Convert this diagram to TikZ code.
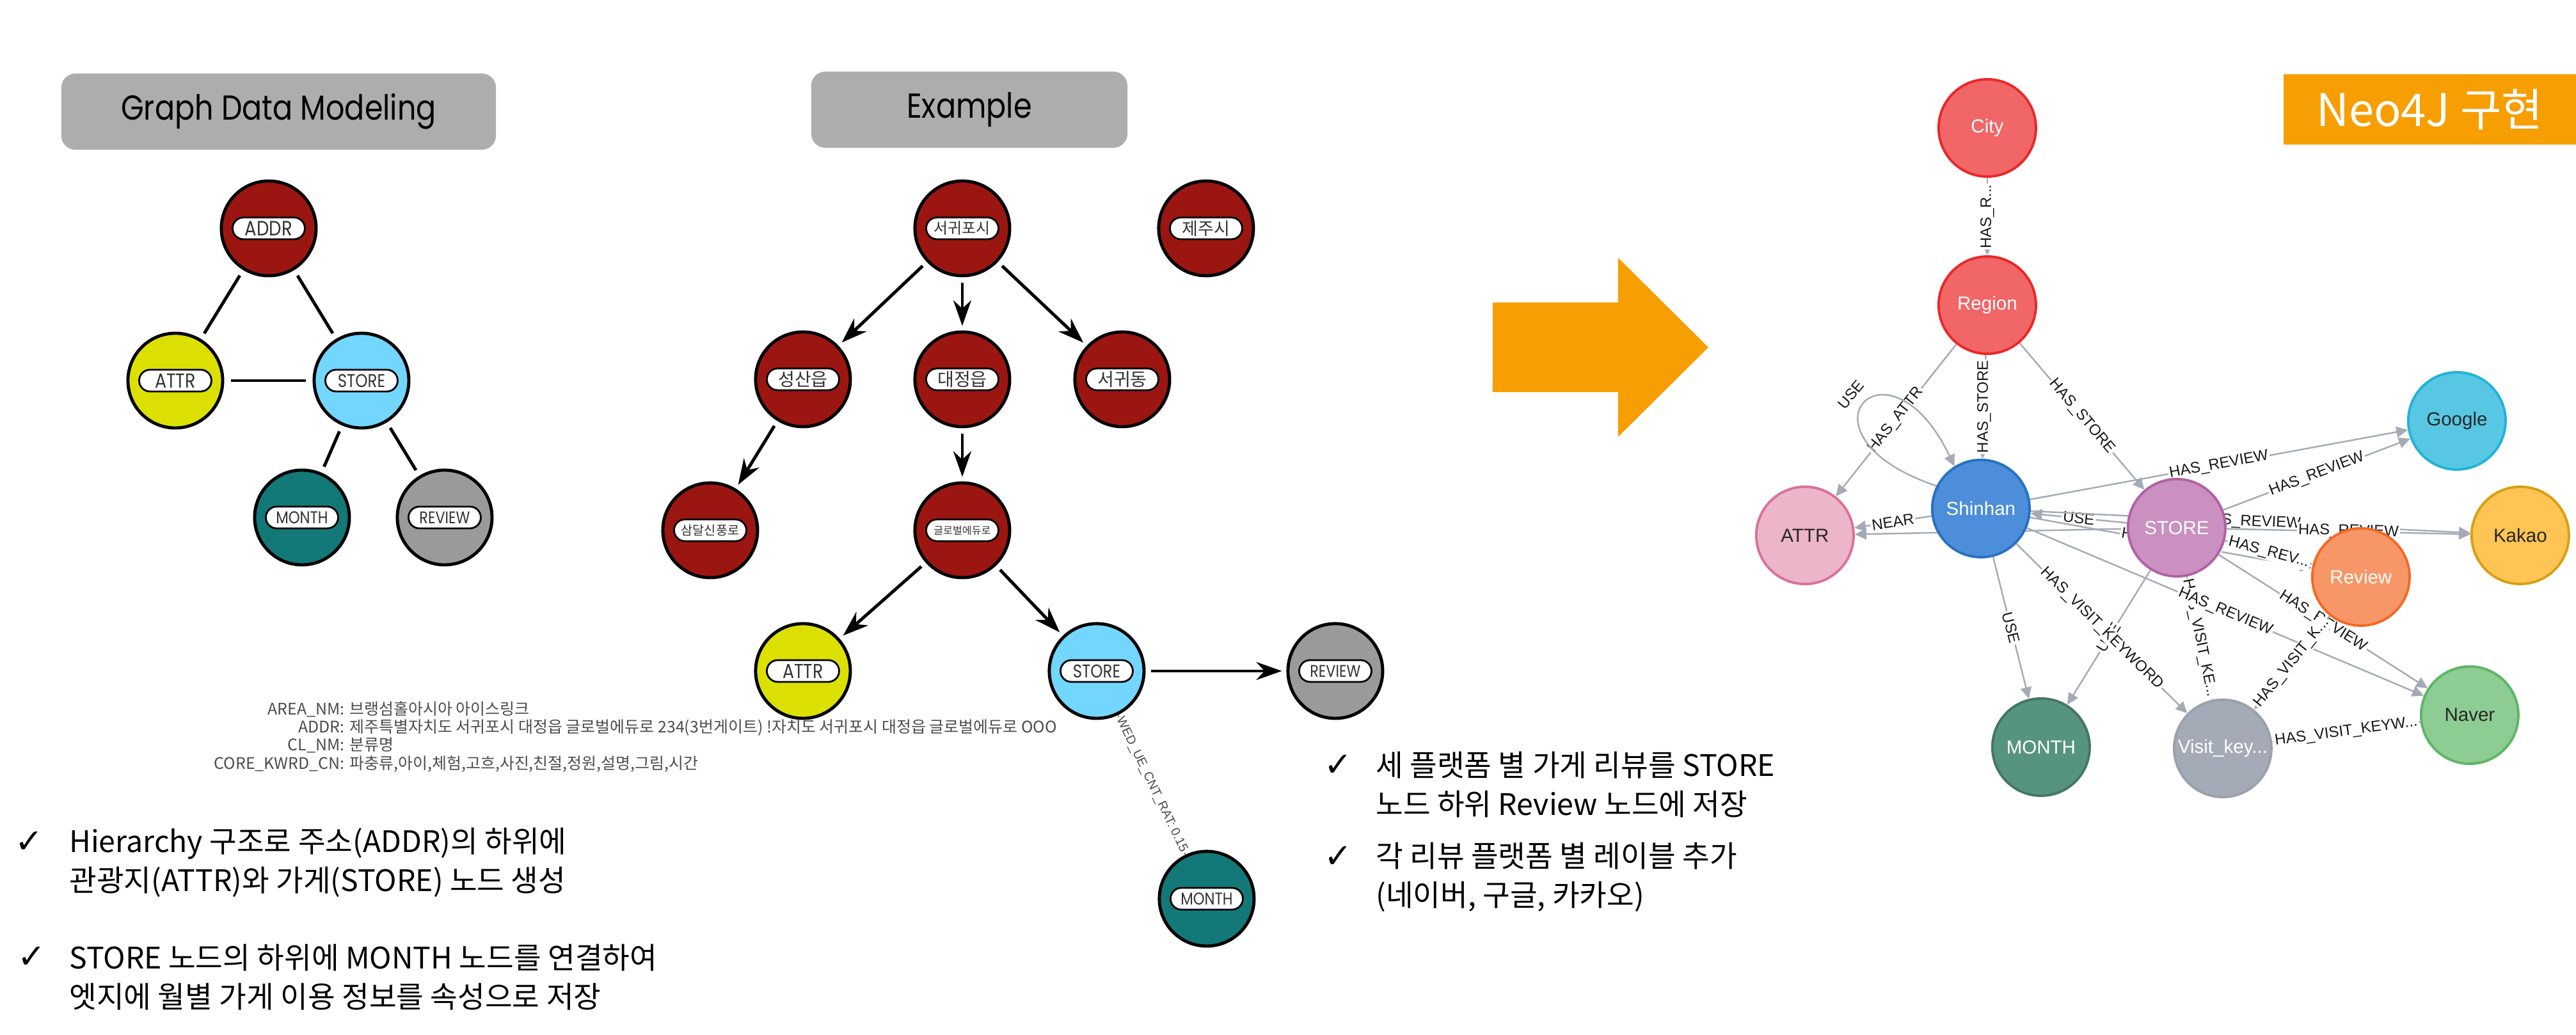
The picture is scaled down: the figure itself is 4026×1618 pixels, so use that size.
\documentclass[tikz,border=0pt]{standalone}
\usepackage{fontspec}
\setmainfont{Liberation Sans}
\newfontfamily\kr{Noto Sans CJK KR}
\newfontfamily\ttl[FakeStretch=0.85]{Poppins}
\newfontfamily\sym{DejaVu Sans}
\usetikzlibrary{positioning,arrows.meta,shapes.misc}

\definecolor{addrred}{RGB}{156,22,17}
\definecolor{attryellow}{RGB}{220,224,0}
\definecolor{storeblue}{RGB}{115,214,255}
\definecolor{monthteal}{RGB}{19,120,120}
\definecolor{reviewgray}{RGB}{154,154,154}
\definecolor{titlegray}{RGB}{173,173,173}
\definecolor{arroworange}{RGB}{247,158,2}
\definecolor{edgegray}{RGB}{165,171,182}
\definecolor{cityfill}{RGB}{241,102,103}
\definecolor{cityline}{RGB}{235,39,40}
\definecolor{shinfill}{RGB}{76,142,218}
\definecolor{shinline}{RGB}{40,112,194}
\definecolor{storefill}{RGB}{201,144,192}
\definecolor{storeline}{RGB}{178,97,165}
\definecolor{attrfill}{RGB}{236,181,201}
\definecolor{attrline}{RGB}{218,114,152}
\definecolor{googlefill}{RGB}{87,199,227}
\definecolor{googleline}{RGB}{35,179,215}
\definecolor{kakaofill}{RGB}{255,196,84}
\definecolor{kakaoline}{RGB}{215,160,19}
\definecolor{reviewfill}{RGB}{247,151,103}
\definecolor{reviewline}{RGB}{243,105,36}
\definecolor{monthfill}{RGB}{86,148,128}
\definecolor{monthline}{RGB}{68,118,102}
\definecolor{visitfill}{RGB}{165,171,182}
\definecolor{visitline}{RGB}{154,161,172}
\definecolor{naverfill}{RGB}{141,204,147}
\definecolor{naverline}{RGB}{93,182,101}

\newcommand{\latsize}[1]{\ttl\fontsize{#1}{#1}\selectfont}
\newcommand{\hansize}[1]{\kr\fontsize{#1}{#1}\selectfont}

\pgfdeclarelayer{paper}
\pgfdeclarelayer{edges}
\pgfsetlayers{paper,edges,main}

\begin{document}
\begin{tikzpicture}[
    x=0.01cm, y=-0.01cm,
    titlebox/.style={fill=titlegray, rounded corners=0.22cm, minimum height=1.19cm, font=\latsize{15.4}},
    gnode/.style={circle, draw=black, line width=1.4pt, fill=#1, minimum size=1.48cm, inner sep=0pt},
    pill/.style={rounded rectangle, draw=black, line width=0.8pt, fill=white, minimum width=1.2cm, minimum height=0.34cm, inner sep=1pt, text=black!80},
    link/.style={line width=1.4pt, shorten <=0.1cm, shorten >=0.1cm},
    flow/.style={line width=1.4pt, -{Stealth[length=0.4cm, width=0.28cm]}, shorten <=0.09cm, shorten >=0.07cm},
    nnode/.style 2 args={circle, fill=#1, draw=#2, line width=1.1pt, minimum size=1.52cm, inner sep=0pt, font=\fontsize{8.4}{10}\selectfont},
    nedge/.style={draw=edgegray, line width=0.7pt, -{Triangle[length=0.18cm, width=0.17cm]}},
    elabel/.style={fill=white, inner sep=0.6pt, text=black!90, font=\fontsize{6.8}{7}\selectfont},
    bullet/.style={anchor=west, align=left, font=\kr\fontsize{13.2}{17.4}\selectfont},
    tick/.style={font=\sym\fontsize{15}{15}\selectfont},
]
\begin{pgfonlayer}{paper}
\path[use as bounding box, fill=white] (0,0) rectangle (4026,1618);
\end{pgfonlayer}

\node[titlebox, minimum width=6.79cm] (gdmbox) at (435.5,174.5) {Graph Data Modeling};
\node[gnode=addrred,    label={[pill, font=\latsize{9.2}]center:ADDR}]   (addr)   at (420,357) {};
\node[gnode=attryellow, label={[pill, font=\latsize{9}]center:ATTR}]     (attr)   at (274,595) {};
\node[gnode=storeblue,  label={[pill, font=\latsize{8.2}]center:STORE}]  (store)  at (565,595) {};
\node[gnode=monthteal,  label={[pill, font=\latsize{7.6}]center:MONTH}]  (month)  at (472,809) {};
\node[gnode=reviewgray, label={[pill, font=\latsize{7.5}]center:REVIEW}] (review) at (695,809) {};
\draw[link] (addr) -- (attr);
\draw[link] (addr) -- (store);
\draw[link] (attr) -- (store);
\draw[link] (store) -- (month);
\draw[link] (store) -- (review);

\node[titlebox, minimum width=4.94cm] (exbox) at (1515,171.5) {Example};
\node[gnode=addrred, label={[pill, font=\hansize{6.8}]center:서귀포시}]   (seogwipo)   at (1504,357) {};
\node[gnode=addrred, label={[pill, font=\hansize{7.7}]center:제주시}]     (jeju)       at (1885,357) {};
\node[gnode=addrred, label={[pill, font=\hansize{8}]center:성산읍}]       (seongsan)   at (1255,593) {};
\node[gnode=addrred, label={[pill, font=\hansize{8}]center:대정읍}]       (daejeong)   at (1504,593) {};
\node[gnode=addrred, label={[pill, font=\hansize{8}]center:서귀동}]       (seogwidong) at (1754,593) {};
\node[gnode=addrred, label={[pill, font=\hansize{5.6}]center:삼달신풍로}] (samdal)     at (1110,829) {};
\node[gnode=addrred, label={[pill, font=\hansize{4.6}]center:글로벌에듀로}] (global)   at (1504,829) {};
\node[gnode=attryellow, label={[pill, font=\latsize{9}]center:ATTR}]     (exattr)   at (1255,1049) {};
\node[gnode=storeblue,  label={[pill, font=\latsize{8.2}]center:STORE}]  (exstore)  at (1714,1049) {};
\node[gnode=reviewgray, label={[pill, font=\latsize{7.5}]center:REVIEW}] (exreview) at (2087,1049) {};
\node[gnode=monthteal,  label={[pill, font=\latsize{7.6}]center:MONTH}]  (exmonth)  at (1886,1405) {};
\draw[flow] (seogwipo) -- (seongsan);
\draw[flow] (seogwipo) -- (daejeong);
\draw[flow] (seogwipo) -- (seogwidong);
\draw[flow] (seongsan) -- (samdal);
\draw[flow] (daejeong) -- (global);
\draw[flow] (global) -- (exattr);
\draw[flow] (global) -- (exstore);
\draw[flow] (exstore) -- (exreview);
\begin{pgfonlayer}{edges}
\draw[gray, line width=0.5pt] (exstore) -- node[sloped, fill=white, inner sep=0.5pt, text=black!70, font=\fontsize{5.6}{6}\selectfont] {WED\_UE\_CNT\_RAT: 0.15} (exmonth);
\end{pgfonlayer}

\node[anchor=west, text=black!70, inner sep=0pt, font=\kr\fontsize{7.1}{7.25}\selectfont] (props) at (334,1153) {%
\begin{tabular}{@{}r@{\hspace{0.08cm}}l@{}}
AREA\_NM: & 브랭섬홀아시아 아이스링크\\
ADDR: & 제주특별자치도 서귀포시 대정읍 글로벌에듀로 234(3번게이트) !자치도 서귀포시 대정읍 글로벌에듀로 OOO\\
CL\_NM: & 분류명\\
CORE\_KWRD\_CN: & 파충류,아이,체험,고흐,사진,친절,정원,설명,그림,시간
\end{tabular}};

\node[tick] (tickA) at (46,1317) {✓};
\node[bullet] (noteA) at (96,1348.5) {Hierarchy 구조로 주소(ADDR)의 하위에\\관광지(ATTR)와 가게(STORE) 노드 생성};
\node[tick] (tickB) at (50,1497) {✓};
\node[bullet] (noteB) at (96,1527.5) {STORE 노드의 하위에 MONTH 노드를 연결하여\\엣지에 월별 가게 이용 정보를 속성으로 저장};
\node[tick] (tickC) at (2092,1197) {✓};
\node[bullet] (noteC) at (2138,1227) {세 플랫폼 별 가게 리뷰를 STORE\\노드 하위 Review 노드에 저장};
\node[tick] (tickD) at (2092,1340) {✓};
\node[bullet] (noteD) at (2138,1371) {각 리뷰 플랫폼 별 레이블 추가\\(네이버, 구글, 카카오)};

\fill[arroworange] (2333,473) -- (2529,473) -- (2529,403) -- (2670,543) -- (2529,683) -- (2529,613) -- (2333,613) -- cycle;

\node[fill=arroworange, minimum width=4.57cm, minimum height=1.10cm, text=white, font=\kr\fontsize{20}{20}\selectfont] (neobox) at (3797.5,171) {Neo4J 구현};

\node[nnode={cityfill}{cityline}, text=white]       (city)    at (3106,200)  {City};
\node[nnode={cityfill}{cityline}, text=white]       (region)  at (3106,477)  {Region};
\node[nnode={googlefill}{googleline}, text=black!85] (google) at (3840,658)  {Google};
\node[nnode={attrfill}{attrline}, text=black!85]    (nattr)   at (2821,837)  {ATTR};
\node[nnode={shinfill}{shinline}, text=white]       (shinhan) at (3096,795)  {Shinhan};
\node[nnode={storefill}{storeline}, text=white]     (nstore)  at (3402,825)  {STORE};
\node[nnode={kakaofill}{kakaoline}, text=black!85]  (kakao)   at (3939,837)  {Kakao};
\node[nnode={reviewfill}{reviewline}, text=white]   (nreview) at (3690,902)  {Review};
\node[nnode={monthfill}{monthline}, text=white]     (nmonth)  at (3190,1168) {MONTH};
\node[nnode={visitfill}{visitline}, text=white]     (visit)   at (3474,1170) {Visit\_key...};
\node[nnode={naverfill}{naverline}, text=black!85]  (naver)   at (3860,1118) {Naver};

\begin{pgfonlayer}{edges}
\draw[nedge] (city) -- node[elabel, rotate=90] {HAS\_R...} (region);
\draw[nedge] (region) -- node[elabel, sloped] {HAS\_ATTR} (nattr);
\draw[nedge] (region) -- node[elabel, rotate=90] {HAS\_STORE} (shinhan);
\draw[nedge] (region) -- node[elabel, sloped] {HAS\_STORE} (nstore);
\draw[nedge] (shinhan.153) .. controls (2790,680) and (2950,510) .. (shinhan.122);
\node[elabel, fill=none, rotate=50] (loopuse) at (2893,617) {USE};
\draw[nedge] (shinhan) -- node[elabel, sloped] {NEAR} (nattr);
\draw[nedge] (nstore) -- (nattr);
\draw[nedge] (shinhan) -- node[elabel, sloped] {HAS\_REVIEW} (google);
\draw[nedge] (nstore) -- node[elabel, sloped] {HAS\_REVIEW} (google);
\draw[nedge] (nstore) -- node[elabel, sloped] {USE} (shinhan);
\draw[nedge] (shinhan) -- node[elabel, sloped] {HAS\_REVIEW} (kakao);
\draw[nedge] (nstore) -- node[elabel, sloped] {HAS\_REVIEW} (kakao);
\draw[nedge] (shinhan) -- node[elabel, sloped] {HAS\_REVIEW} (nreview);
\draw[nedge] (nstore) -- node[elabel, sloped] {HAS\_REV...} (nreview);
\draw[nedge] (shinhan) -- node[elabel, sloped] {USE} (nmonth);
\draw[nedge] (nstore) -- node[elabel, sloped] {USE} (nmonth);
\draw[nedge] (shinhan) -- node[elabel, sloped] {HAS\_VISIT\_KEYWORD} (visit);
\draw[nedge] (nstore) -- node[elabel, sloped] {HAS\_VISIT\_KE...} (visit);
\draw[nedge] (shinhan) -- node[elabel, sloped] {HAS\_REVIEW} (naver);
\draw[nedge] (nstore) -- node[elabel, sloped] {HAS\_REVIEW} (naver);
\draw[nedge] (naver) -- node[elabel, sloped] {HAS\_VISIT\_KEYW...} (visit);
\draw[nedge] (nreview) -- node[elabel, sloped] {HAS\_VISIT\_K...} (visit);
\end{pgfonlayer}
\end{tikzpicture}
\end{document}
